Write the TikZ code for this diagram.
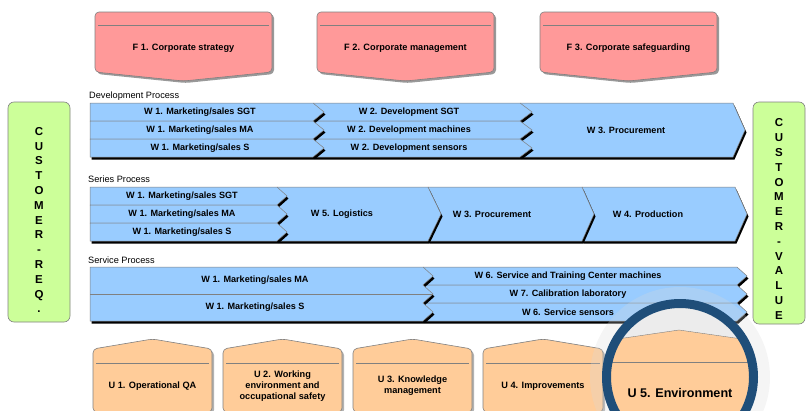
\documentclass[tikz,border=0pt]{standalone}
\usepackage{fontspec}
\setmainfont{Liberation Sans}
\usetikzlibrary{shadows}
\definecolor{TopRed}{HTML}{FF9999}
\definecolor{RowBlue}{HTML}{99CCFF}
\definecolor{SideGreen}{HTML}{CCFF99}
\definecolor{BottomOrange}{HTML}{FFCC99}
\definecolor{LensBlue}{HTML}{1F4E79}
\definecolor{EdgeGray}{HTML}{808080}

\begin{document}
\begin{tikzpicture}[x=1pt, y=-1pt,
          topbox/.style={fill=TopRed, draw=EdgeGray, line width=0.6pt, rounded corners=4pt, drop shadow={shadow xshift=2pt, shadow yshift=-2pt, fill=black!40, opacity=1}},
          botbox/.style={fill=BottomOrange, draw=EdgeGray, line width=0.6pt, rounded corners=4pt, drop shadow={shadow xshift=2pt, shadow yshift=-2pt, fill=black!30, opacity=1}},
          rowbox/.style={fill=RowBlue, draw=EdgeGray, line width=0.5pt, drop shadow={shadow xshift=1.5pt, shadow yshift=-2.5pt, fill=black, opacity=1}},
          sidebox/.style={fill=SideGreen, draw=EdgeGray, line width=0.6pt, rounded corners=6pt},
          hline/.style={draw=EdgeGray, line width=0.6pt},
          rowtext/.style={font=\fontsize{9.1}{10}\selectfont\bfseries, inner sep=0pt, align=center},
          boxtext/.style={font=\fontsize{9.2}{11}\selectfont\bfseries, inner sep=0pt, align=center},
          sidetext/.style={font=\fontsize{11.5}{14.8}\selectfont\bfseries, inner sep=0pt, align=center},
          proclbl/.style={font=\fontsize{9.2}{10}\selectfont, inner sep=0pt, anchor=west}
        ]
          \useasboundingbox (0,0) rectangle (806,410);
          
          % Top row: corporate functions
          \path[topbox] (95,72) -- (95,12) -- (272,12) -- (272,72) -- (183.5,81) -- cycle;
          \draw[hline] (98,25) -- (269,25);
          \node[boxtext] (f1) at (183.5,48) {F 1. Corporate strategy};
          \path[topbox] (317,72) -- (317,12) -- (494,12) -- (494,72) -- (405.5,81) -- cycle;
          \draw[hline] (320,25) -- (491,25);
          \node[boxtext] (f2) at (405.5,48) {F 2. Corporate management};
          \path[topbox] (540,72) -- (540,12) -- (717,12) -- (717,72) -- (628.5,81) -- cycle;
          \draw[hline] (543,25) -- (714,25);
          \node[boxtext] (f3) at (628.5,48) {F 3. Corporate safeguarding};
          
          % Customer sides
          \draw[sidebox] (8,102) rectangle (70,322);
          \node[sidetext] (custreq) at (39,220) {C\\U\\S\\T\\O\\M\\E\\R\\-\\R\\E\\Q\\.};
          \draw[sidebox] (753,102) rectangle (805,324);
          \node[sidetext] (custval) at (779,219) {C\\U\\S\\T\\O\\M\\E\\R\\-\\V\\A\\L\\U\\E};
          
          % Development Process
          \node[proclbl] (devlbl) at (89,96) {Development Process};
          \path[rowbox] (520,103) -- (733,103) -- (745,130) -- (733,157) -- (520,157) -- cycle;
          \node[rowtext] (dw3) at (626,130) {W 3. Procurement};
          \path[rowbox] (313,103) -- (520,103) -- (532,112) -- (520,121) -- (313,121) -- cycle;
          \node[rowtext] (dw2a) at (409,112) {W 2. Development SGT};
          \path[rowbox] (313,121) -- (520,121) -- (532,130) -- (520,139) -- (313,139) -- cycle;
          \node[rowtext] (dw2b) at (409,130) {W 2. Development machines};
          \path[rowbox] (313,139) -- (520,139) -- (532,148) -- (520,157) -- (313,157) -- cycle;
          \node[rowtext] (dw2c) at (409,148) {W 2. Development sensors};
          \path[rowbox] (90,103) -- (313,103) -- (324,112) -- (313,121) -- (90,121) -- cycle;
          \node[rowtext] (dw1a) at (200,112) {W 1. Marketing/sales SGT};
          \path[rowbox] (90,121) -- (313,121) -- (324,130) -- (313,139) -- (90,139) -- cycle;
          \node[rowtext] (dw1b) at (200,130) {W 1. Marketing/sales MA};
          \path[rowbox] (90,139) -- (313,139) -- (324,148) -- (313,157) -- (90,157) -- cycle;
          \node[rowtext] (dw1c) at (200,148) {W 1. Marketing/sales S};
          
          % Series Process
          \node[proclbl] (serlbl) at (88,179) {Series Process};
          \path[rowbox] (582,187) -- (735,187) -- (747,214) -- (735,241) -- (582,241) -- cycle;
          \node[rowtext] (sw4) at (648,214) {W 4. Production};
          \path[rowbox] (428,187) -- (582,187) -- (594,214) -- (582,241) -- (428,241) -- cycle;
          \node[rowtext] (sw3) at (492,214) {W 3. Procurement};
          \path[rowbox] (277,187) -- (428,187) -- (441,214) -- (428,241) -- (277,241) -- cycle;
          \node[rowtext] (sw5) at (342,214) {W 5. Logistics};
          \path[rowbox] (90,187) -- (277,187) -- (287,196) -- (277,205) -- (90,205) -- cycle;
          \node[rowtext] (sw1a) at (182,196) {W 1. Marketing/sales SGT};
          \path[rowbox] (90,205) -- (277,205) -- (287,214) -- (277,223) -- (90,223) -- cycle;
          \node[rowtext] (sw1b) at (182,214) {W 1. Marketing/sales MA};
          \path[rowbox] (90,223) -- (277,223) -- (287,232) -- (277,241) -- (90,241) -- cycle;
          \node[rowtext] (sw1c) at (182,232) {W 1. Marketing/sales S};
          
          % Service Process
          \node[proclbl] (svclbl) at (88,260) {Service Process};
          \path[rowbox] (423,267) -- (737,267) -- (747,276) -- (737,285) -- (423,285) -- cycle;
          \node[rowtext] (vw6a) at (568,276) {W 6. Service and Training Center machines};
          \path[rowbox] (423,285) -- (737,285) -- (747,294) -- (737,303) -- (423,303) -- cycle;
          \node[rowtext] (vw7) at (568,294) {W 7. Calibration laboratory};
          \path[rowbox] (423,303) -- (737,303) -- (747,312) -- (737,321) -- (423,321) -- cycle;
          \node[rowtext] (vw6b) at (568,312) {W 6. Service sensors};
          \path[rowbox] (90,267) -- (423,267) -- (433,276) -- (423,285) -- (433,294) -- (423,303) -- (433,312) -- (423,321) -- (90,321) -- cycle;
          \draw[hline, line width=0.5pt] (90,294) -- (433,294);
          \node[rowtext] (vw1a) at (255,280) {W 1. Marketing/sales MA};
          \node[rowtext] (vw1b) at (255,307) {W 1. Marketing/sales S};
          
          % Bottom row: support processes
          \path[botbox] (93,412) -- (93,349) -- (152.5,339) -- (212,349) -- (212,412) -- cycle;
          \draw[hline] (96,363) -- (209,363);
          \node[boxtext] (u1) at (152.5,386) {U 1. Operational QA};
          \path[botbox] (223,412) -- (223,349) -- (282.5,339) -- (342,349) -- (342,412) -- cycle;
          \draw[hline] (226,363) -- (339,363);
          \node[boxtext] (u2) at (282.5,386) {U 2. Working\\environment and\\occupational safety};
          \path[botbox] (353,412) -- (353,349) -- (412.5,339) -- (472,349) -- (472,412) -- cycle;
          \draw[hline] (356,363) -- (469,363);
          \node[boxtext] (u3) at (412.5,386) {U 3. Knowledge\\management};
          \path[botbox] (483,412) -- (483,349) -- (543,339) -- (603,349) -- (603,412) -- cycle;
          \draw[hline] (486,363) -- (600,363);
          \node[boxtext] (u4) at (543,386) {U 4. Improvements};
          
          % Magnifier on U 5
          \fill[gray!30, opacity=0.25, even odd rule] (680,377) circle (90) (680,377) circle (78);
          \begin{scope}
            \clip (680,377) circle (74);
            \fill[gray!15] (600,290) rectangle (760,460);
            \path[fill=BottomOrange, draw=EdgeGray] (590,460) -- (590,343) -- (679,330) -- (770,343) -- (770,460) -- cycle;
            \draw[hline] (590,362) -- (770,362);
            \node[font=\fontsize{12.6}{14}\selectfont\bfseries, inner sep=0pt] (u5) at (680,393) {U 5. Environment};
          \end{scope}
          \draw[LensBlue, line width=9pt] (680,377) circle (73.5);
          
        \end{tikzpicture}
\end{document}
